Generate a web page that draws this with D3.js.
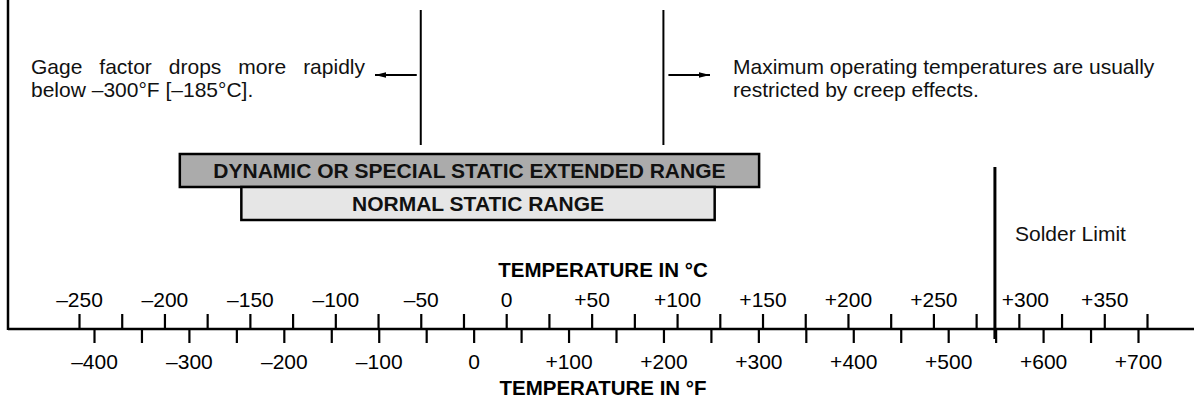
<!DOCTYPE html>
<html>
<head>
<meta charset="utf-8">
<script src="https://cdn.jsdelivr.net/npm/d3@7"></script>
<style>
  html, body { margin: 0; padding: 0; background: #fff; }
  svg { display: block; font-family: "Liberation Sans", Arial, Helvetica, sans-serif; }
</style>
</head>
<body>
<svg id="chart" width="1194" height="399"></svg>
<script>
// ---- Data ----
const celsiusTicks = d3.range(-250, 376, 25);            // minor + major ticks °C
const celsiusLabels = [-250, -200, -150, -100, -50, 0, 50, 100, 150, 200, 250, 300, 350];
const fahrenheitTicks = d3.range(-400, 701, 50);
const fahrenheitLabels = [-400, -300, -200, -100, 0, 100, 200, 300, 400, 500, 600, 700];
const rangeNames = ["DYNAMIC OR SPECIAL STATIC EXTENDED RANGE", "NORMAL STATIC RANGE"];
const rangeStartC = [-191, -155];
const rangeEndC = [148, 122];
const markerC = [-50, 92];          // vertical boundary lines (°C)
const solderLimitC = 286;          // solder limit (°C)
const noteLeft = ["Gage factor drops more rapidly", "below \u2013300\u00B0F [\u2013185\u00B0C]."];
const noteRight = ["Maximum operating temperatures are usually", "restricted by creep effects."];
const axisTitleC = "TEMPERATURE IN \u00B0C";
const axisTitleF = "TEMPERATURE IN \u00B0F";
const solderText = "Solder Limit";

// ---- Layout ----
const svg = d3.select("#chart");
const axisY = 329;
const xC = d3.scaleLinear().domain([-250, 375]).range([79, 1147]);
const xF = d3.scaleLinear().domain([-400, 700]).range([94, 1138]);
const fmt = v => v === 0 ? "0" : (v < 0 ? "\u2013" + Math.abs(v) : "+" + v);
const fontSize = 21;

// left frame line
svg.append("line").attr("x1", 8).attr("x2", 8).attr("y1", 0).attr("y2", axisY + 1)
  .attr("stroke", "#000").attr("stroke-width", 2.5);
// main axis line
svg.append("line").attr("x1", 8).attr("x2", 1194).attr("y1", axisY).attr("y2", axisY)
  .attr("stroke", "#000").attr("stroke-width", 2.5);

// Celsius axis (top)
const axC = d3.axisTop(xC).tickValues(celsiusTicks).tickSizeInner(15).tickSizeOuter(0).tickPadding(7)
  .tickFormat(d => celsiusLabels.includes(d) ? fmt(d) : "");
const gC = svg.append("g").attr("transform", `translate(0,${axisY})`).call(axC);
// Fahrenheit axis (bottom)
const axF = d3.axisBottom(xF).tickValues(fahrenheitTicks).tickSizeInner(14).tickSizeOuter(0).tickPadding(11)
  .tickFormat(d => fahrenheitLabels.includes(d) ? fmt(d) : "");
const gF = svg.append("g").attr("transform", `translate(0,${axisY})`).call(axF);
[gC, gF].forEach(g => {
  g.select(".domain").remove();
  g.selectAll(".tick line").attr("stroke", "#000").attr("stroke-width", 2.2);
  g.selectAll(".tick text").attr("fill", "#000").attr("font-size", fontSize)
    .attr("font-family", "Liberation Sans, Arial, Helvetica, sans-serif");
});
// keep the +300 °C label clear of the solder-limit line
gC.selectAll(".tick text").filter(d => d === 300).attr("dx", 6);

// axis titles
svg.append("text").attr("x", 603).attr("y", 277).attr("text-anchor", "middle")
  .attr("font-size", 20.5).attr("font-weight", "bold").text(axisTitleC);
svg.append("text").attr("x", 603).attr("y", 395).attr("text-anchor", "middle")
  .attr("font-size", 20.5).attr("font-weight", "bold").text(axisTitleF);

// range bars
const barTop = [154, 187];
const barH = 33;
const barFill = ["#ababab", "#e6e6e6"];
rangeNames.forEach((name, i) => {
  const x0 = xC(rangeStartC[i]), x1 = xC(rangeEndC[i]);
  svg.append("rect").attr("x", x0).attr("y", barTop[i]).attr("width", x1 - x0).attr("height", barH)
    .attr("fill", barFill[i]).attr("stroke", "#000").attr("stroke-width", 2.5);
});
rangeNames.forEach((name, i) => {
  const x0 = xC(rangeStartC[i]), x1 = xC(rangeEndC[i]);
  svg.append("text").attr("x", (x0 + x1) / 2).attr("y", barTop[i] + barH / 2 + 7.5)
    .attr("text-anchor", "middle").attr("font-size", fontSize).attr("font-weight", "bold")
    .attr("fill", "#111").text(name);
});

// vertical boundary lines
markerC.forEach(c => {
  svg.append("line").attr("x1", xC(c)).attr("x2", xC(c)).attr("y1", 10).attr("y2", 145)
    .attr("stroke", "#000").attr("stroke-width", 2);
});

// arrows
function arrow(xFrom, xTo, y) {
  svg.append("line").attr("x1", xFrom).attr("x2", xTo).attr("y1", y).attr("y2", y)
    .attr("stroke", "#000").attr("stroke-width", 1.8);
  const dir = xTo > xFrom ? 1 : -1;
  svg.append("path")
    .attr("d", `M${xTo},${y} L${xTo - dir * 11},${y - 2.8} L${xTo - dir * 11},${y + 2.8} Z`)
    .attr("fill", "#000");
}
arrow(xC(markerC[0]) - 4, 375, 75);
arrow(xC(markerC[1]) + 5, 710, 75);

// left note (first line justified)
const leftX0 = 31, leftX1 = 365;
const words = noteLeft[0].split(" ");
const wSel = svg.selectAll(".lw").data(words).enter().append("text").attr("class", "lw")
  .attr("y", 74).attr("font-size", fontSize).attr("fill", "#111").text(d => d);
const widths = [];
wSel.each(function() { widths.push(this.getComputedTextLength()); });
const gap = (leftX1 - leftX0 - d3.sum(widths)) / (words.length - 1);
let cx = leftX0;
wSel.attr("x", (d, i) => { const v = cx; cx += widths[i] + gap; return v; });
svg.append("text").attr("x", leftX0).attr("y", 97).attr("font-size", fontSize).attr("fill", "#111").text(noteLeft[1]);

// right note
noteRight.forEach((t, i) => {
  svg.append("text").attr("x", 733).attr("y", 74 + i * 23).attr("font-size", fontSize)
    .attr("fill", "#111").text(t);
});

// solder limit
svg.append("line").attr("x1", xC(solderLimitC)).attr("x2", xC(solderLimitC)).attr("y1", 167).attr("y2", 339)
  .attr("stroke", "#000").attr("stroke-width", 3);
svg.append("text").attr("x", 1015).attr("y", 241).attr("font-size", fontSize).attr("fill", "#111").text(solderText);
</script>
</body>
</html>
